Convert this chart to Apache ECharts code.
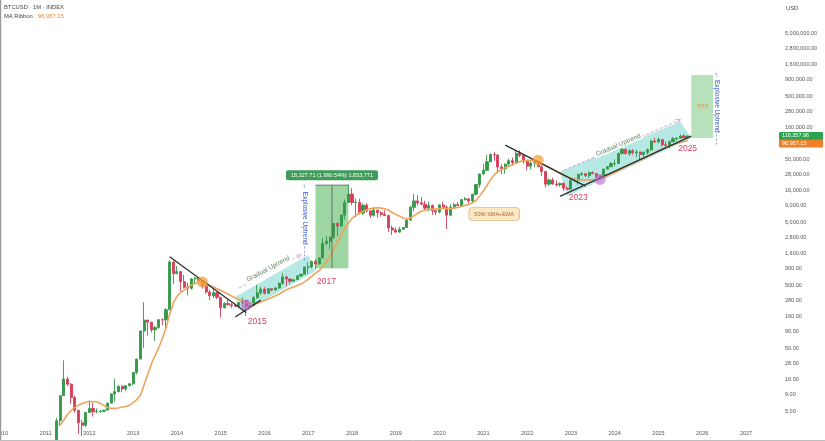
<!DOCTYPE html>
<html><head><meta charset="utf-8">
<script src="https://cdn.jsdelivr.net/npm/echarts@6/dist/echarts.min.js"></script>
<style>html,body{margin:0;padding:0;background:#fff}#c{width:825px;height:441px}</style>
</head><body><div id="c"></div>
<script>
// ---------- DATA ----------
const years = ['2010','2011','2012','2013','2014','2015','2016','2017','2018','2019','2020','2021','2022','2023','2024','2025','2026','2027'];
const lastMonth = '2027-09';

const candleStart = '2011-01';
// monthly [open, high, low, close]
const ohlc = [
 [0.30,0.95,0.30,0.52],[0.52,1.10,0.80,0.86],[0.86,0.95,0.67,0.78],[0.78,3.90,0.56,3.50],[3.50,8.90,2.90,8.74],[8.74,31.9,8.74,16.1],[16.1,17.5,12.5,13.35],[13.35,13.9,6.5,8.19],[8.19,8.8,4.7,5.14],[5.14,5.2,2.15,3.25],[3.25,3.6,2.0,2.97],[2.97,4.8,2.8,4.72],
 [4.72,7.38,4.72,5.48],[5.48,6.70,4.10,4.86],[4.86,5.50,4.60,4.90],[4.90,5.20,4.70,4.95],[4.95,5.20,4.90,5.17],[5.17,6.75,5.14,6.69],[6.69,9.60,6.50,9.35],[9.35,16.4,7.1,10.15],[10.15,12.7,9.9,12.4],[12.4,12.7,9.9,11.2],[11.2,12.9,10.4,12.57],[12.57,13.9,12.5,13.51],
 [13.51,20.7,12.9,20.41],[20.41,33.8,19.1,33.38],[33.38,95.7,33.2,93.03],[93.03,266,50,139],[139,139.8,79.1,128.8],[128.8,129.8,88,97.5],[97.5,111,65,106.2],[106.2,140,101,140.9],[140.9,147,115,139.9],[139.9,215,101,203.3],[203.3,1240,200,1160],[1160,1200,520,760],
 [760,1000,740,815],[815,840,400,565],[565,720,440,460],[460,545,340,445],[445,635,420,628],[628,680,525,640],[640,645,565,586],[586,600,440,480],[480,500,365,387],[387,420,290,338],[338,458,310,378],[378,385,300,320],
 [320,320,152,217],[217,265,212,254],[254,300,236,244],[244,260,215,236],[236,247,227,230],[230,266,217,263],[263,318,252,284],[284,286,162,230],[230,244,225,236],[236,335,235,313],[313,503,305,377],[377,467,347,430],
 [430,462,354,369],[369,446,365,437],[437,439,396,416],[416,468,412,448],[448,550,436,531],[531,778,504,673],[673,704,480,624],[624,626,520,573],[573,617,570,608],[608,720,605,698],[698,755,677,742],[742,975,742,963],
 [963,1150,750,970],[970,1210,920,1190],[1190,1290,890,1080],[1080,1350,1065,1348],[1348,2760,1348,2300],[2300,2980,2130,2480],[2480,2920,1840,2875],[2875,4740,2700,4735],[4735,4980,2980,4340],[4340,6470,4110,6460],[6460,11400,5500,10200],[10200,19800,10100,13860],
 [13860,17250,9200,10230],[10230,11790,5950,10330],[10330,11700,6600,6930],[6930,9800,6440,9240],[9240,9990,7080,7490],[7490,7780,5780,6390],[6390,8490,6120,7730],[7730,7750,5880,7030],[7030,7400,6100,6620],[6620,7680,6200,6320],[6320,6570,3480,4030],[4030,4400,3120,3740],
 [3740,4100,3350,3460],[3460,4210,3390,3850],[3850,4110,3730,4100],[4100,5600,4060,5350],[5350,9090,5330,8560],[8560,13880,7450,10820],[10820,13190,9070,10080],[10080,12320,9320,9590],[9590,10900,7710,8290],[8290,10540,7300,9150],[9150,9510,6520,7560],[7560,7740,6430,7190],
 [7190,9580,6860,9350],[9350,10500,8450,8540],[8540,9180,3850,6420],[6420,9470,6150,8630],[8630,10070,8110,9450],[9450,10400,8830,9140],[9140,11450,8890,11350],[11350,12470,10980,11650],[11650,12090,9880,10780],[10780,14100,10380,13800],[13800,19860,13220,19700],[19700,29300,17580,28990],
 [28990,41950,28130,33140],[33140,58350,32300,45140],[45140,61780,44960,58800],[58800,64850,47050,57720],[57720,59590,30000,37300],[37300,41330,28800,35040],[35040,42400,29280,41490],[41490,50480,37330,47100],[47100,52920,39600,43790],[43790,66930,43290,61300],[61300,69000,53260,56950],[56950,59040,42000,46210],
 [46210,47990,32950,38480],[38480,45820,34320,43190],[43190,48190,37160,45540],[45540,47440,37700,37640],[37640,39900,26700,31790],[31790,31990,17600,19930],[19930,24670,18780,23300],[23300,25200,19600,20050],[20050,22790,18150,19430],[19430,21100,18200,20490],[20490,21480,15480,17170],[17170,18390,16290,16540],
 [16540,23950,16500,23140],[23140,25250,21400,23150],[23150,29200,19570,28480],[28480,31000,26940,29250],[29250,29820,25810,27210],[27210,31440,24790,30480],[30480,31860,28860,29230],[29230,30230,25360,25940],[25940,27500,24900,26970],[26970,35200,26560,34650],[34650,38400,34100,37720],[37720,44700,37600,42270],
 [42270,48970,38500,42580],[42580,64000,41880,61130],[61130,73800,59100,71330],[71330,72800,59600,60640],[60640,71980,56550,67490],[67490,71950,58400,62680],[62680,70000,53500,64620],[64620,65100,49000,58970],[58970,66500,52550,63330],[63330,73600,58900,70220],[70220,99600,66800,96400],[96400,108300,90500,93430],
 [93430,109350,89200,102400],[102400,102800,78200,84350],[84350,95000,76600,82550],[82550,97900,74400,94200],[94200,111900,93400,104600],[104600,110500,98200,107200],[107200,123200,105300,115800],[115800,124500,107300,108300],[108300,117900,107300,116357.96]
];

const maStart = '2011-05';
const maValues = [
 3.0,3.6,4.4,5.1,5.7,6.2,6.6,6.9,
 7.0,7.1,7.0,6.6,6.1,5.7,5.5,5.5,5.6,5.8,5.9,6.2,
 6.8,7.6,9.0,13,19,28,38,50,70,105,170,260,
 330,380,415,460,500,530,550,545,525,495,465,435,
 410,385,360,335,312,295,280,265,255,250,255,268,
 285,300,318,338,360,390,420,445,465,490,520,560,
 620,690,770,850,980,1180,1450,1850,2400,3100,3900,4800,
 5700,6400,6900,7400,7800,8100,8300,8400,8300,8100,7700,7100,
 6600,6200,5800,5600,5800,6300,6900,7400,7700,7900,8000,8050,
 8150,8250,8150,8150,8300,8500,8800,9200,9500,10000,11000,13000,
 15500,19000,23500,28000,31500,34000,36500,38500,40500,43000,45500,47000,
 47500,47500,47000,45000,42500,40000,37000,34500,32000,29500,27500,26000,
 24800,24000,23600,23300,23200,23300,23500,23700,24000,25500,27000,28800,
 30600,32500,35000,37500,40000,42500,45000,48000,51000,54500,58500,63000,
 67500,72000,76000,80000,84500,88500,92000,95000,96957.15
];

const priceTicks = [5,9,16,28,50,90,160,280,500,900,1600,2800,5000,9000,16000,28000,50000,160000,280000,500000,900000,1600000,2800000,5000000];
const lastPrice = 116357.96;
const maLast = 96957.15;

// ---------- BUILD ----------
const months = [];
years.forEach(y => { for (let m = 1; m <= 12; m++) { const k = y + '-' + String(m).padStart(2, '0'); if (k <= lastMonth) months.push(k); } });
const L = v => Math.log10(v);
const cIdx = months.indexOf(candleStart);
const candleData = months.map((m, i) => { const r = ohlc[i - cIdx]; return r ? [L(r[0]), L(r[3]), L(r[2]), L(r[1])] : ['-', '-', '-', '-']; });
const mIdx = months.indexOf(maStart);
const maData = months.map((m, i) => { const v = maValues[i - mIdx]; return v ? L(v) : '-'; });
const fmt = v => v.toLocaleString('en-US', {minimumFractionDigits: 2, maximumFractionDigits: 2});
const FONT = '"Liberation Sans", Arial, sans-serif';
const UP = '#35994a', DOWN = '#d6405b';

const chart = echarts.init(document.getElementById('c'));
chart.setOption({
  animation: false,
  backgroundColor: '#ffffff',
  grid: {left: 0, right: 48, top: 0, bottom: 16, containLabel: false, outerBoundsMode: 'none'},
  xAxis: {
    type: 'category', data: months, boundaryGap: true,
    axisLine: {show: false}, axisTick: {show: false}, splitLine: {show: false},
    axisLabel: {interval: (i, v) => v.endsWith('-01'), formatter: v => v.slice(0, 4), fontSize: 5.5, color: '#555', margin: 5, fontFamily: FONT}
  },
  yAxis: {
    type: 'value', position: 'right', min: L(3), max: 7.223,
    axisLine: {show: false}, axisTick: {show: false}, splitLine: {show: false},
    axisLabel: {
      customValues: priceTicks.map(L),
      formatter: v => { let best = priceTicks[0]; priceTicks.forEach(t => { if (Math.abs(L(t) - v) < Math.abs(L(best) - v)) best = t; }); return fmt(best); },
      fontSize: 5.5, color: '#555', margin: 8, fontFamily: FONT
    }
  },
  series: [
    {type: 'candlestick', data: candleData, barWidth: 2.6, clip: true,
     itemStyle: {color: UP, color0: DOWN, borderColor: UP, borderColor0: DOWN, borderWidth: 0.9}},
    {type: 'line', data: maData, showSymbol: false, clip: true, z: 3,
     lineStyle: {color: '#eea35c', width: 1.6}}
  ]
});

// ---------- ANNOTATIONS (anchored in data space) ----------
const P = (m, p) => chart.convertToPixel({gridIndex: 0}, [m, L(p)]);
const g = [];
const lineEl = (a, b, style, z) => g.push({type: 'line', z: z || 10, shape: {x1: a[0], y1: a[1], x2: b[0], y2: b[1]}, style});
const textEl = (pt, text, style, rot, z) => g.push({type: 'text', z: z || 12, x: pt[0], y: pt[1], rotation: rot || 0,
  style: Object.assign({text, align: 'center', verticalAlign: 'middle', fontFamily: FONT}, style)});
const ang = (a, b) => Math.atan2(-(b[1] - a[1]), b[0] - a[0]);

// uptrend bands
[[['2015-05', 326], ['2017-01', 1500], ['2017-03', 830], ['2015-07', 186]],
 [['2022-10', 31300], ['2025-07', 197000], ['2025-10', 106500], ['2022-12', 12800]]].forEach(c => {
  g.push({type: 'polygon', z: 1, shape: {points: c.map(q => P(q[0], q[1]))}, style: {fill: 'rgba(110,212,200,0.5)'}});
});

// green range boxes
const box1a = P('2017-03', 920.7), box1b = P('2017-12', 19248.4);
g.push({type: 'rect', z: 1, shape: {x: box1a[0], y: box1b[1], width: box1b[0] - box1a[0], height: box1a[1] - box1b[1]}, style: {fill: 'rgba(76,178,88,0.55)'}});
const bx = (box1a[0] + box1b[0]) / 2;
lineEl([bx, box1b[1]], [bx, box1a[1]], {stroke: '#555', lineWidth: 0.8});
lineEl([box1a[0], box1b[1]], [box1b[0], box1b[1]], {stroke: '#555', lineWidth: 0.8});
textEl([bx, box1b[1] - 10], '18,327.71 (1,990.54%) 1,833,771', {fill: '#fff', fontSize: 5.5, backgroundColor: '#3f9c58', padding: [2, 5], borderRadius: 2});

const box2a = P('2025-10', 107700), box2b = P('2026-04', 1077000);
g.push({type: 'rect', z: 1, shape: {x: box2a[0], y: box2b[1], width: box2b[0] - box2a[0], height: box2a[1] - box2b[1]}, style: {fill: 'rgba(110,195,120,0.5)'}});
textEl(P('2026-01', 336000), '???', {fill: '#e8852a', fontSize: 7});

// trend lines
[[['2013-11', 1410], ['2015-08', 183]],
 [['2015-05', 155], ['2015-12', 288]],
 [['2021-07', 83000], ['2023-05', 18600]],
 [['2022-10', 12800], ['2025-10', 115600]]].forEach(s => lineEl(P(s[0][0], s[0][1]), P(s[1][0], s[1][1]), {stroke: '#2d2d2d', lineWidth: 1.3}));

// dashed arrows with "Gradual Uptrend"
[[['2015-06', 448], ['2016-11', 1500], ['2016-02', 900]],
 [['2022-11', 33000], ['2025-07', 210000], ['2024-02', 83000]]].forEach(s => {
  const a = P(s[0][0], s[0][1]), b = P(s[1][0], s[1][1]);
  lineEl(a, b, {stroke: '#c98fce', lineWidth: 0.8, lineDash: [3, 2]});
  const th = Math.atan2(b[1] - a[1], b[0] - a[0]);
  const h1 = [b[0] - 5 * Math.cos(th - 0.5), b[1] - 5 * Math.sin(th - 0.5)];
  const h2 = [b[0] - 5 * Math.cos(th + 0.5), b[1] - 5 * Math.sin(th + 0.5)];
  g.push({type: 'polyline', z: 10, shape: {points: [h1, b, h2]}, style: {stroke: '#c98fce', lineWidth: 0.8, fill: null}});
  textEl(P(s[2][0], s[2][1]), 'Gradual Uptrend', {fill: '#5f7f60', fontSize: 6.5, backgroundColor: '#fff', padding: [0, 2]}, ang(a, b));
});

// explosive uptrend vertical labels
textEl(P('2016-12', 5000), '\u2190 Explosive Uptrend - - - -', {fill: '#2f52d0', fontSize: 6.5}, -Math.PI / 2);
textEl(P('2026-05', 321000), '\u2190 Explosive Uptrend - - -', {fill: '#2f52d0', fontSize: 6.5}, -Math.PI / 2);

// circles
[[P('2014-08', 556), 'rgba(245,160,60,0.75)'], [P('2015-08', 241), 'rgba(185,100,205,0.6)'],
 [P('2022-04', 48000), 'rgba(245,160,60,0.75)'], [P('2023-09', 23700), 'rgba(185,100,205,0.6)']].forEach(c => {
  g.push({type: 'circle', z: 11, shape: {cx: c[0][0], cy: c[0][1], r: 5.5}, style: {fill: c[1]}});
});

// year markers
[['2015-11', 130, '2015'], ['2017-06', 575, '2017'], ['2023-03', 12000, '2023'], ['2025-09', 72500, '2025']].forEach(t => {
  textEl(P(t[0], t[1]), t[2], {fill: '#e0405e', fontSize: 8.5});
});

// MA label
textEl(P('2021-04', 6700), '50W SMA+EMA', {fill: '#a66a2c', fontSize: 5.5, backgroundColor: '#fde8c6', borderColor: '#e6b47a', borderWidth: 0.8, borderRadius: 3, padding: [3, 5]});

// header texts
g.push({type: 'text', z: 12, x: 4, y: 7, style: {text: 'BTCUSD \u00b7 1M \u00b7 INDEX', fill: '#444', fontSize: 5.8, fontFamily: FONT, verticalAlign: 'middle'}});
g.push({type: 'text', z: 12, x: 4, y: 16, style: {text: 'MA Ribbon', fill: '#444', fontSize: 5.8, fontFamily: FONT, verticalAlign: 'middle'}});
g.push({type: 'text', z: 12, x: 38, y: 16, style: {text: fmt(maLast), fill: '#ef8a2e', fontSize: 5.8, fontFamily: FONT, verticalAlign: 'middle'}});
g.push({type: 'text', z: 12, x: 786, y: 8, style: {text: 'USD', fill: '#444', fontSize: 5.8, fontFamily: FONT, verticalAlign: 'middle'}});

// price badges
const yG = P('2025-09', lastPrice)[1];
const yO = Math.max(P('2025-09', maLast)[1], yG + 7.5);
[[yG, '#2fa34f', lastPrice], [yO, '#f07f26', maLast]].forEach(b => {
  g.push({type: 'rect', z: 12, shape: {x: 779, y: b[0] - 4, width: 44, height: 8, r: 1}, style: {fill: b[1]}});
  g.push({type: 'text', z: 13, x: 782, y: b[0], style: {text: fmt(b[2]), fill: '#fff', fontSize: 5.5, fontFamily: FONT, verticalAlign: 'middle'}});
});

// frame lines
g.push({type: 'line', z: 12, shape: {x1: 0.5, y1: 0, x2: 0.5, y2: 441}, style: {stroke: '#9a9a9a', lineWidth: 1.5}});
g.push({type: 'line', z: 12, shape: {x1: 0, y1: 440.5, x2: 825, y2: 440.5}, style: {stroke: '#bdbdbd', lineWidth: 1}});

chart.setOption({graphic: {elements: g}});
</script></body></html>
